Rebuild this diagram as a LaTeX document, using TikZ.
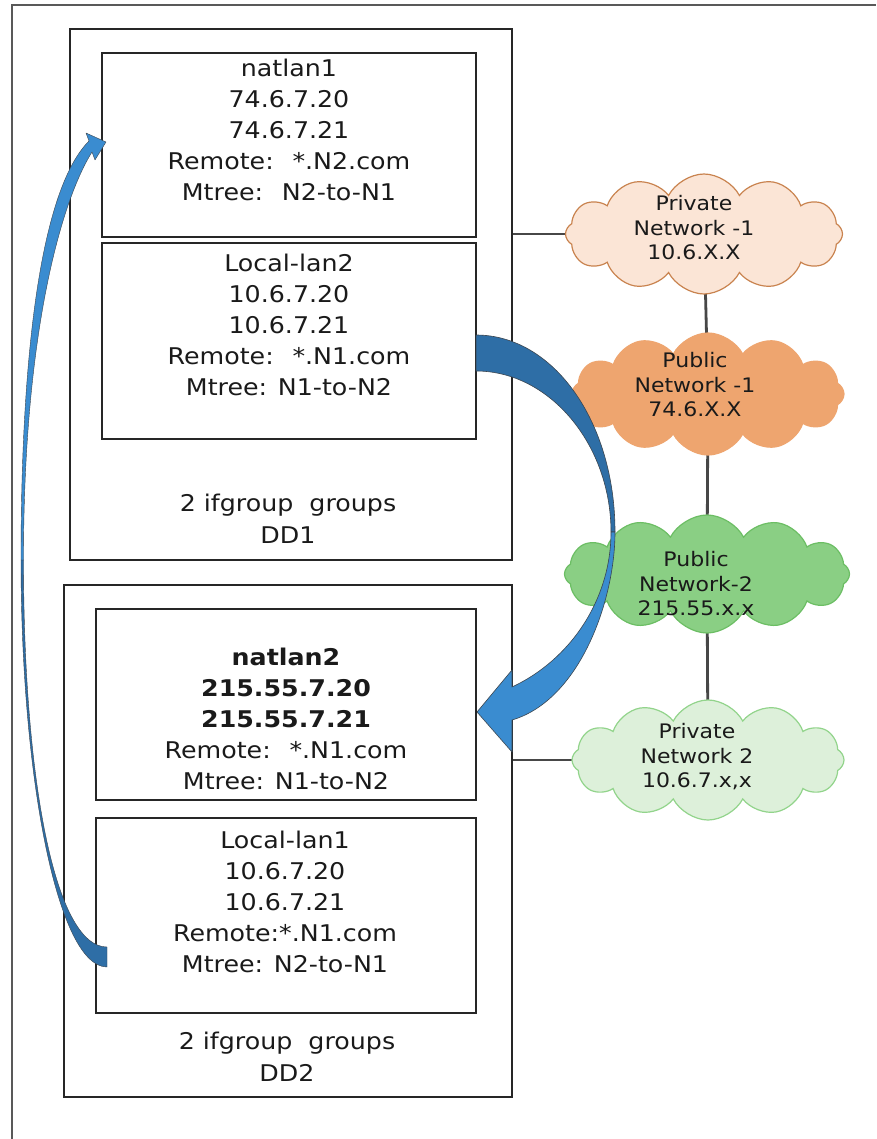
\documentclass[tikz,border=0pt]{standalone}
\usepackage{fontspec}
\setmainfont{DejaVu Sans}[FakeStretch=1.1]
\usetikzlibrary{shapes.symbols}
\pgfdeclarelayer{bottom}
\pgfdeclarelayer{lines}
\pgfsetlayers{bottom,lines,main}
\definecolor{txt}{HTML}{1A1A1A}
\definecolor{pnAfill}{HTML}{FBE5D6}
\definecolor{pnAline}{HTML}{C9834F}
\definecolor{pubAfill}{HTML}{EEA56F}
\definecolor{pubBfill}{HTML}{8ACF84}
\definecolor{pubBline}{HTML}{6CBE64}
\definecolor{pnBfill}{HTML}{DDF0DA}
\definecolor{pnBline}{HTML}{92D48B}
\definecolor{arrdark}{HTML}{2E6EA6}
\definecolor{arrlight}{HTML}{3A8CD0}
\definecolor{arrline}{HTML}{3C4650}
\tikzset{
  outerbox/.style={draw=black!85, line width=1.9pt},
  innerbox/.style={draw=black!85, line width=1.9pt},
  boxtext/.style={align=center, inner sep=0pt, text=txt, font=\fontsize{23}{31}\selectfont},
  grouptext/.style={align=center, inner sep=0pt, text=txt, font=\fontsize{23}{32}\selectfont},
  netcloud/.style={cloud, cloud puffs=12, cloud puff arc=125, aspect=2.3, line width=1.2pt, inner sep=0pt},
  cloudtext/.style={align=center, inner sep=0pt, text=txt, font=\fontsize{20}{24.5}\selectfont},
  conn/.style={draw=black!72, line width=2.8pt},
  frame/.style={draw=black!65, line width=1.6pt},
  arrowpart/.style={draw=arrline, line width=0.6pt, line join=round}
}
\begin{document}
\begin{tikzpicture}[x=1pt,y=-1pt]
\useasboundingbox (0,0) rectangle (876,1139);
\begin{pgfonlayer}{bottom}
\fill[white] (0,0) rectangle (876,1139);
\end{pgfonlayer}
\draw[frame] (12,1139) -- (12,5) -- (876,5);

% DD1
\node[outerbox, minimum width=442pt, minimum height=531pt] (dd1) at (291,294.5) {};
\node[innerbox, minimum width=374pt, minimum height=184pt] (nat1) at (289,145) {};
\node[innerbox, minimum width=374pt, minimum height=196pt] (lan2) at (289,341) {};
\node[boxtext] (nat1t) at (289,130) {natlan1\\74.6.7.20\\74.6.7.21\\Remote:~ *.N2.com\\Mtree:~ N2-to-N1};
\node[boxtext] (lan2t) at (289,325) {Local-lan2\\10.6.7.20\\10.6.7.21\\Remote:~ *.N1.com\\Mtree: N1-to-N2};
\node[grouptext] (dd1t) at (288,519) {2 ifgroup~ groups\\DD1};

% DD2
\node[outerbox, minimum width=448pt, minimum height=512pt] (dd2) at (288,841) {};
\node[innerbox, minimum width=380pt, minimum height=191pt] (nat2) at (286,704.5) {};
\node[innerbox, minimum width=380pt, minimum height=195pt] (lan1) at (286,915.5) {};
\node[boxtext] (nat2t) at (286,719) {\textbf{natlan2}\\\textbf{215.55.7.20}\\\textbf{215.55.7.21}\\Remote:~ *.N1.com\\Mtree: N1-to-N2};
\node[boxtext] (lan1t) at (285,902) {Local-lan1\\10.6.7.20\\10.6.7.21\\Remote:*.N1.com\\Mtree: N2-to-N1};
\node[grouptext] (dd2t) at (287,1057) {2 ifgroup~ groups\\DD2};

% clouds
\node[netcloud, fill=pnAfill, draw=pnAline, minimum width=277pt, minimum height=120pt] (pn1) at (704,234) {};
\node[netcloud, fill=pubAfill, draw=pubAfill, minimum width=272pt, minimum height=122pt] (pub1) at (708,394) {};
\node[netcloud, fill=pubBfill, draw=pubBline, minimum width=285pt, minimum height=118pt] (pub2) at (707,574) {};
\node[netcloud, fill=pnBfill, draw=pnBline, minimum width=272pt, minimum height=120pt] (pn2) at (708,760) {};
\node[cloudtext] (pn1t) at (694,228) {Private\\Network -1\\10.6.X.X};
\node[cloudtext] (pub1t) at (695,385) {Public\\Network -1\\74.6.X.X};
\node[cloudtext] (pub2t) at (696,584) {Public\\Network-2\\215.55.x.x};
\node[cloudtext] (pn2t) at (697,757) {Private\\Network 2\\10.6.7.x,x};

% connectors (behind the clouds)
\begin{pgfonlayer}{lines}
\draw[conn] (pn1.west -| dd1.east) -- (pn1.center);
\draw[conn] (pn1.center) -- (pub1.center);
\draw[conn] (pub1.center) -- (pub2.center);
\draw[conn] (pub2.center) -- (pn2.center);
\draw[conn] (pn2.west -| dd2.east) -- (pn2.center);
\end{pgfonlayer}

% big curved arrow: Local-lan2 -> natlan2
\filldraw[arrowpart, fill=arrdark] (476,335) .. controls (553,335) and (615,421) .. (615,532)
  -- (611,532) .. controls (611,445) and (550,371) .. (476,371) -- cycle;
\filldraw[arrowpart, fill=arrlight] (611,532) -- (615,532) .. controls (615,600) and (580,700) .. (512,720)
  -- (512,752) -- (477,712) -- (512,670) -- (512,687) .. controls (570,660) and (611,600) .. (611,532) -- cycle;

% thin curved arrow: Local-lan1 -> natlan1
\filldraw[arrowpart, line width=0.4pt, fill=arrdark] (107,947) -- (107,967) .. controls (58,967) and (21,780) .. (21,560)
  -- (23.5,560) .. controls (23.5,780) and (55,947) .. (107,947) -- cycle;
\filldraw[arrowpart, line width=0.4pt, fill=arrlight] (21,560) .. controls (21,330) and (45,185) .. (89,141)
  -- (86,133) -- (106,142) -- (95,160) -- (92,152) .. controls (62,200) and (23.5,330) .. (23.5,560) -- cycle;
\end{tikzpicture}
\end{document}
